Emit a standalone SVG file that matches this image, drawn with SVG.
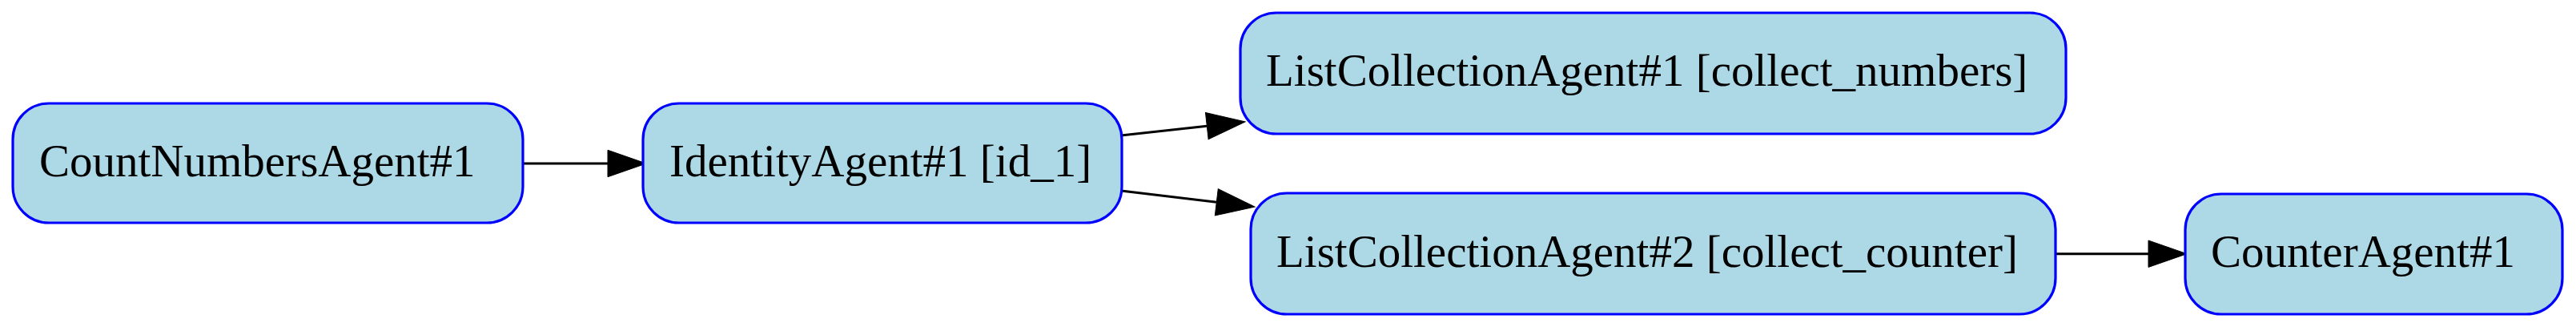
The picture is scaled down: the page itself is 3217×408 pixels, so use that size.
<svg xmlns="http://www.w3.org/2000/svg" width="3217" height="408" viewBox="0 0 3217 408">
<style>
.node rect{fill:#add8e6;stroke:#0000ff;stroke-width:3.2}
.node text{font-family:"Liberation Serif","Times New Roman",serif;font-size:57px;fill:#000}
.edge{fill:none;stroke:#000;stroke-width:3}
</style>
<defs>
<marker id="arr" markerUnits="userSpaceOnUse" markerWidth="50" markerHeight="36" refX="0" refY="16.7" orient="auto" overflow="visible">
<path d="M0,0 L48,16.7 L0,33.4 z" fill="#000" stroke="#000" stroke-width="1"/>
</marker>
</defs>
<rect width="3217" height="408" fill="#fff"/>
<g id="connectors">
<line class="edge" x1="653" y1="204" x2="759" y2="204" marker-end="url(#arr)"/>
<line class="edge" x1="1400" y1="169" x2="1507.3" y2="157.2" marker-end="url(#arr)"/>
<line class="edge" x1="1400" y1="238" x2="1519.3" y2="252.3" marker-end="url(#arr)"/>
<line class="edge" x1="2567" y1="316.7" x2="2683" y2="316.7" marker-end="url(#arr)"/>
</g>
<g id="node-countnumbers" class="node">
<rect x="16" y="129" width="637" height="149" rx="45" ry="45"/>
<text x="49" y="220">CountNumbersAgent#1</text>
</g>
<g id="node-identity" class="node">
<rect x="803" y="129" width="598" height="149" rx="45" ry="45"/>
<text x="836" y="220">IdentityAgent#1 [id_1]</text>
</g>
<g id="node-listcollection1" class="node">
<rect x="1549" y="16" width="1031" height="151" rx="45" ry="45"/>
<text x="1581" y="107">ListCollectionAgent#1 [collect_numbers]</text>
</g>
<g id="node-listcollection2" class="node">
<rect x="1562" y="241" width="1005" height="151" rx="45" ry="45"/>
<text x="1594" y="333">ListCollectionAgent#2 [collect_counter]</text>
</g>
<g id="node-counter" class="node">
<rect x="2729" y="242" width="471" height="150" rx="45" ry="45"/>
<text x="2761" y="333">CounterAgent#1</text>
</g>
</svg>
